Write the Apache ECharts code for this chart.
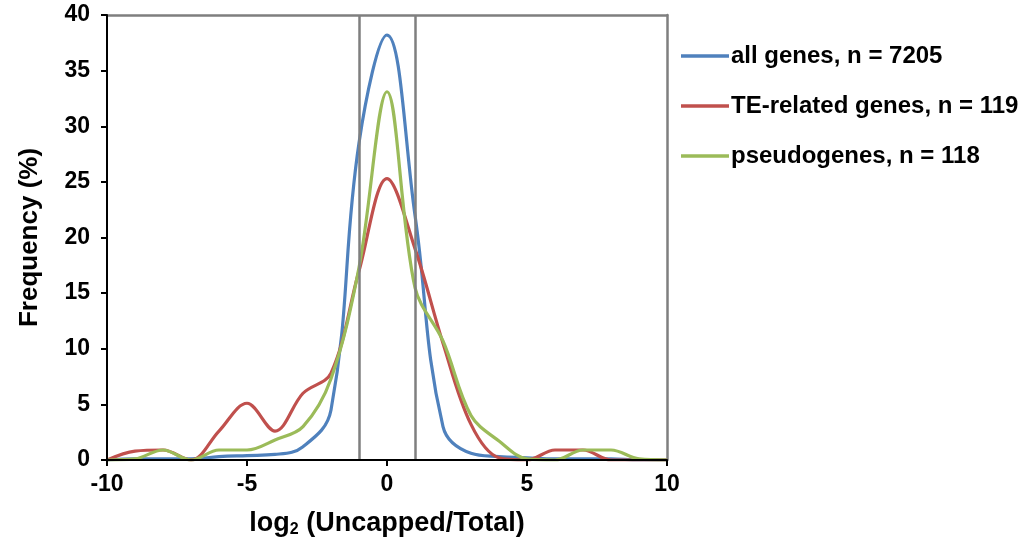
<!DOCTYPE html>
<html>
<head>
<meta charset="utf-8">
<script src="https://cdn.jsdelivr.net/npm/echarts@6/dist/echarts.min.js"></script>
<style>
html,body{margin:0;padding:0;background:#fff;}
#chart{width:1030px;height:545px;}
</style>
</head>
<body>
<div id="chart"></div>
<script>
// x positions: log2(Uncapped/Total)
const xValues = [-10,-9,-8,-7,-6,-5,-4,-3,-2,-1,0,1,2,3,4,5,6,7,8,9,10];
const allGenes    = [0,0.1,0.1,0.1,0.3,0.4,0.5,1.2,4.5,28.5,38.2,22,3.0,0.6,0.3,0.2,0.1,0.1,0.1,0,0];
const teRelated   = [0,0.8,0.9,0,2.6,5.1,2.6,6,7.8,17,25.3,19,10.5,3.2,0.2,0,0.9,0.9,0,0,0];
const pseudogenes = [0,0.1,0.9,0,0.9,0.9,1.8,3,7.3,17.3,33.1,15.5,10.7,4,1.7,0.1,0,0.9,0.9,0.1,0];
const seriesNames = ['all genes, n = 7205','TE-related genes, n = 119','pseudogenes, n = 118'];
const seriesColors = ['#4F81BD','#C0504D','#9BBB59'];
const seriesSmooth = [0.4, 0.35, 0.35];
const xTicks = {min:-10, max:10, interval:5};
const yTicks = {min:0, max:40, interval:5};
const refLines = [-1, 1];

const font = "'Liberation Sans', Arial, Helvetica, sans-serif";
function pairs(ys){ return xValues.map((x,i)=>[x, ys[i]]); }
const dataSets = [allGenes, teRelated, pseudogenes];

const series = dataSets.map((d,i)=>({
  name: seriesNames[i],
  type: 'line',
  data: pairs(d),
  smooth: seriesSmooth[i],
  symbol: 'none',
  lineStyle: {width: 3.2, color: seriesColors[i]},
  itemStyle: {color: seriesColors[i]},
  z: 3
}));
series.push({
  type: 'line',
  data: [],
  silent: true,
  markLine: {
    symbol: ['none','none'],
    silent: true,
    label: {show:false},
    lineStyle: {color:'#7f7f7f', width:2.5, type:'solid'},
    data: refLines.map(v=>({xAxis:v}))
  },
  z: 2
});

const frameAxis = {
  axisLine: {show:true, onZero:false, lineStyle:{color:'#7f7f7f', width:2.5}},
  axisTick: {show:false}, axisLabel: {show:false}, splitLine: {show:false}
};

const chart = echarts.init(document.getElementById('chart'), null, {renderer:'canvas'});
chart.setOption({
  animation: false,
  backgroundColor: '#ffffff',
  grid: {left:107, right:363, top:15, bottom:85},
  legend: {
    orient: 'vertical',
    left: 676, top: 39,
    icon: 'rect',
    itemWidth: 48, itemHeight: 3.5,
    itemGap: 26,
    data: seriesNames,
    textStyle: {fontFamily: font, fontWeight:'bold', fontSize:24, color:'#000', padding:[0,0,0,-3]}
  },
  xAxis: [{
    type: 'value',
    min: xTicks.min, max: xTicks.max, interval: xTicks.interval,
    splitLine: {show:false},
    axisLine: {onZero:false, lineStyle:{color:'#000', width:2}},
    axisTick: {show:true, length:6, lineStyle:{color:'#000', width:2}},
    axisLabel: {fontFamily:font, fontWeight:'bold', fontSize:23, color:'#000', margin:13},
    name: '{a|log}{s|2}{a| (Uncapped/Total)}',
    nameLocation: 'middle',
    nameGap: 50,
    nameTextStyle: {
      rich: {
        a: {fontFamily:font, fontWeight:'bold', fontSize:27, color:'#000'},
        s: {fontFamily:font, fontWeight:'bold', fontSize:16, color:'#000', verticalAlign:'bottom', padding:[12,0,0,0]}
      }
    },
    z: 5
  }, Object.assign({type:'value', position:'top', min:xTicks.min, max:xTicks.max}, frameAxis)],
  yAxis: [{
    type: 'value',
    min: yTicks.min, max: yTicks.max, interval: yTicks.interval,
    splitLine: {show:false},
    axisLine: {onZero:false, lineStyle:{color:'#000', width:2}},
    axisTick: {show:true, length:6, lineStyle:{color:'#000', width:2}},
    axisLabel: {fontFamily:font, fontWeight:'bold', fontSize:23, color:'#000', margin:17},
    name: 'Frequency (%)',
    nameLocation: 'middle',
    nameGap: 64,
    nameTextStyle: {fontFamily:font, fontWeight:'bold', fontSize:26, color:'#000'},
    z: 5
  }, Object.assign({type:'value', position:'right', min:yTicks.min, max:yTicks.max}, frameAxis)],
  series: series
});
</script>
</body>
</html>
